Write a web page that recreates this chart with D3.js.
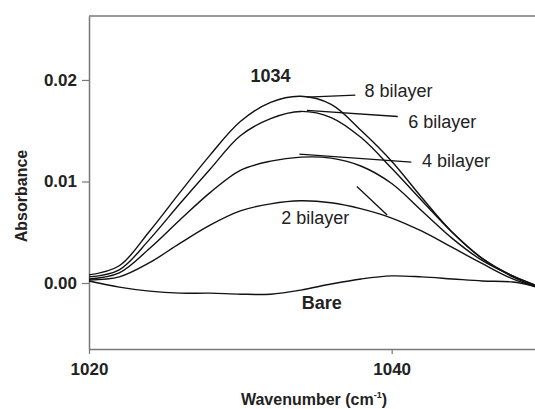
<!DOCTYPE html>
<html>
<head>
<meta charset="utf-8">
<script src="https://cdn.jsdelivr.net/npm/d3@7"></script>
<style>
  body { margin: 0; background: #fff; }
  svg { display: block; font-family: "Liberation Sans", Arial, sans-serif; }
</style>
</head>
<body>
<svg id="chart" width="535" height="409"></svg>
<script>
// wavenumber grid (cm-1)
const wavenumber = [1020, 1022, 1024, 1026, 1028, 1030, 1032, 1034, 1036, 1038, 1040, 1042, 1044, 1046, 1048, 1050];

// absorbance
const bilayer8 = [0.0008, 0.0017, 0.0051, 0.0089, 0.0126, 0.0159, 0.0178, 0.0184, 0.0176, 0.0150, 0.0120, 0.0084, 0.0050, 0.0024, 0.0007, -0.0005];
const bilayer6 = [0.0006, 0.0013, 0.0043, 0.0078, 0.0112, 0.0145, 0.0162, 0.0169, 0.0163, 0.0143, 0.0113, 0.0081, 0.0050, 0.0024, 0.0006, -0.0006];
const bilayer4 = [0.0004, 0.0010, 0.0034, 0.0062, 0.0089, 0.0111, 0.0120, 0.0124, 0.0123, 0.0115, 0.0098, 0.0071, 0.0044, 0.0022, 0.0007, -0.0005];
const bilayer2 = [0.0003, 0.0006, 0.0020, 0.0039, 0.0057, 0.0071, 0.0078, 0.0081, 0.0079, 0.0073, 0.0064, 0.0051, 0.0035, 0.0019, 0.0004, -0.0006];
const bare     = [0.0002, -0.0004, -0.0008, -0.0010, -0.0010, -0.0011, -0.0011, -0.0007, -0.0001, 0.0004, 0.0007, 0.0006, 0.0004, 0.0002, 0.0001, -0.0005];

const xTicks = [1020, 1040];
const yTicks = [0.00, 0.01, 0.02];

// labels with leader lines, in data units
const labels = [
  {text: "8 bilayer", x: 1038.2, y: 0.0183, from: [1034.4, 0.0183], to: [1037.6, 0.0185]},
  {text: "6 bilayer", x: 1041.1, y: 0.0153, from: [1034.4, 0.0170], to: [1040.4, 0.0164]},
  {text: "4 bilayer", x: 1042.0, y: 0.0114, from: [1033.9, 0.0127], to: [1041.3, 0.0119]},
  {text: "2 bilayer", x: 1032.7, y: 0.0058, from: [1037.7, 0.0095], to: [1039.7, 0.0067]}
];

const mLeft = 89, mTop = 16, mBottom = 349, mRight = 543;

const svg = d3.select("#chart");

const x = d3.scaleLinear().domain([1020, 1050]).range([mLeft, mRight]);
const y = d3.scaleLinear().domain([-0.0065, 0.0263]).range([mBottom, mTop]);

const axisColor = "#777";

// top frame line
svg.append("line")
    .attr("x1", mLeft).attr("x2", mRight)
    .attr("y1", mTop).attr("y2", mTop)
    .attr("stroke", axisColor).attr("stroke-width", 1.5);

let yAxis = svg.append("g")
    .attr("transform", `translate(${mLeft},0)`)
    .call(d3.axisLeft(y).tickValues(yTicks).tickFormat(d3.format(".2f")).tickSize(7).tickSizeOuter(0).tickPadding(5));

let xAxis = svg.append("g")
    .attr("transform", `translate(0,${mBottom})`)
    .call(d3.axisBottom(x).tickValues(xTicks).tickFormat(d3.format("d")).tickSize(5).tickSizeOuter(0).tickPadding(9));

[yAxis, xAxis].forEach(g => {
    g.select(".domain").attr("stroke", axisColor).attr("stroke-width", 1.5);
    g.selectAll(".tick line").attr("stroke", axisColor).attr("stroke-width", 1.2);
    g.selectAll(".tick text")
        .attr("font-size", "17px")
        .attr("font-weight", "bold")
        .attr("font-family", "Liberation Sans, Arial, sans-serif")
        .attr("fill", "#222");
});

const line = d3.line()
    .x((d, i) => x(wavenumber[i]))
    .y(d => y(d))
    .curve(d3.curveCatmullRom.alpha(0.5));

[bilayer8, bilayer6, bilayer4, bilayer2, bare].forEach(series => {
    svg.append("path")
        .attr("d", line(series))
        .attr("fill", "none")
        .attr("stroke", "#111")
        .attr("stroke-width", 1.4);
});

// leader lines and labels
svg.selectAll(".leader")
    .data(labels)
    .enter()
    .append("line")
    .attr("x1", d => x(d.from[0])).attr("y1", d => y(d.from[1]))
    .attr("x2", d => x(d.to[0])).attr("y2", d => y(d.to[1]))
    .attr("stroke", "#111")
    .attr("stroke-width", 1.3);

svg.selectAll(".lbl")
    .data(labels)
    .enter()
    .append("text")
    .text(d => d.text)
    .attr("x", d => x(d.x))
    .attr("y", d => y(d.y))
    .attr("font-size", "18px")
    .attr("fill", "#222");

svg.append("text")
    .text("1034")
    .attr("x", x(1032.0))
    .attr("y", y(0.0198))
    .attr("text-anchor", "middle")
    .attr("font-size", "18px")
    .attr("font-weight", "bold")
    .attr("fill", "#222");

svg.append("text")
    .text("Bare")
    .attr("x", x(1034.06))
    .attr("y", y(-0.0026))
    .attr("font-size", "18px")
    .attr("font-weight", "bold")
    .attr("fill", "#222");

// axis titles
svg.append("text")
    .text("Absorbance")
    .attr("transform", "translate(27,196) rotate(-90)")
    .attr("text-anchor", "middle")
    .attr("font-size", "16px")
    .attr("font-weight", "bold")
    .attr("fill", "#222");

let xt = svg.append("text")
    .attr("x", 314)
    .attr("y", 405)
    .attr("text-anchor", "middle")
    .attr("font-size", "16px")
    .attr("font-weight", "bold")
    .attr("fill", "#222");
xt.append("tspan").text("Wavenumber (cm");
xt.append("tspan").text("-1").attr("font-size", "9px").attr("dy", -7);
xt.append("tspan").text(")").attr("dy", 7);
</script>
</body>
</html>
